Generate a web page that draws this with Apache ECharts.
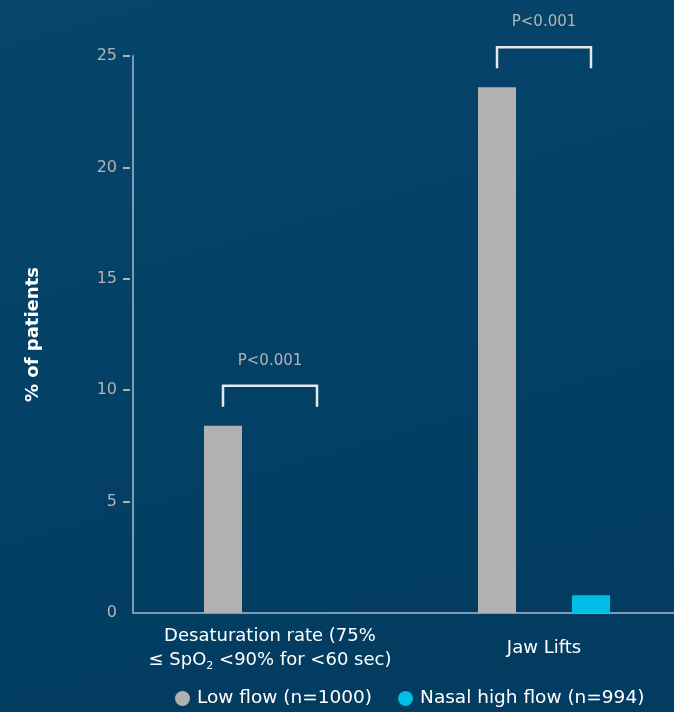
<!DOCTYPE html>
<html>
<head>
<meta charset="utf-8">
<script src="https://cdn.jsdelivr.net/npm/echarts@6/dist/echarts.min.js"></script>
<style>
  html, body { margin: 0; padding: 0; }
  #chart { width: 674px; height: 712px; }
</style>
</head>
<body>
<div id="chart"></div>
<script>
// Outcome categories and values (% of patients)
const categories = ['Desaturation', 'Jaw Lifts'];
const lowFlow = [8.4, 23.6];
const nasalHighFlow = [0, 0.8];
const pValues = ['P<0.001', 'P<0.001'];
const yTicks = [0, 5, 10, 15, 20, 25];
const seriesNames = ['Low flow (n=1000)', 'Nasal high flow (n=994)'];

const FONT = '"DejaVu Sans", "Noto Sans", sans-serif';
const BAR_W = 38;
const BAR_GAP_PX = 56;
const HALF_SPAN = (BAR_W + BAR_GAP_PX) / 2;

const bracketData = categories.map((c, i) => [i, Math.max(lowFlow[i], nasalHighFlow[i]), pValues[i]]);

const chart = echarts.init(document.getElementById('chart'));

const yCommon = {
  type: 'value',
  min: yTicks[0],
  max: yTicks[yTicks.length - 1],
  interval: 5,
  splitLine: { show: false }
};

chart.setOption({
  backgroundColor: {
    type: 'linear', x: 0, y: 0, x2: 0.3, y2: 1,
    colorStops: [
      { offset: 0, color: '#06456c' },
      { offset: 1, color: '#023d61' }
    ]
  },
  animation: false,
  textStyle: { fontFamily: FONT },
  grid: { left: 133, width: 548, top: 56, bottom: 99, containLabel: false, outerBoundsMode: 'none' },
  legend: {
    left: 170,
    top: 684,
    icon: 'circle',
    itemWidth: 15,
    itemHeight: 15,
    itemGap: 26,
    textStyle: { color: '#ffffff', fontSize: 18.5, fontFamily: FONT, padding: [0, 0, 0, 2] },
    data: seriesNames
  },
  xAxis: {
    type: 'category',
    data: categories,
    axisLine: { lineStyle: { color: '#7f9cb3', width: 2 } },
    axisTick: { show: false },
    axisLabel: {
      interval: 0,
      hideOverlap: false,
      margin: 35,
      verticalAlign: 'middle',
      color: '#ffffff',
      fontSize: 18,
      lineHeight: 24,
      formatter: function (v) {
        if (v === 'Desaturation') {
          return '{t|Desaturation rate (75%}\n{t|\u2264 SpO}{sub|2}{t| <90% for <60 sec)}';
        }
        return '{t|' + v + '}';
      },
      rich: {
        t: { color: '#ffffff', fontSize: 18, fontFamily: FONT, lineHeight: 24 },
        sub: { color: '#ffffff', fontSize: 11, fontFamily: FONT, verticalAlign: 'bottom', lineHeight: 10 }
      }
    }
  },
  yAxis: [
    Object.assign({}, yCommon, {
      name: '% of patients',
      nameLocation: 'middle',
      nameGap: 91,
      nameRotate: 90,
      nameTextStyle: { color: '#ffffff', fontSize: 18, fontWeight: 'bold', fontFamily: FONT },
      axisLine: { show: true, lineStyle: { color: '#7f9cb3', width: 2 } },
      axisTick: { show: false },
      axisLabel: { show: false }
    }),
    Object.assign({}, yCommon, {
      position: 'left',
      offset: 3,
      axisLine: { show: false },
      axisTick: { show: true, length: 7, lineStyle: { color: '#b3b3b3', width: 2 }, customValues: [5, 10, 15, 20, 25] },
      axisLabel: { color: '#b3b3b3', fontSize: 16, margin: 13, fontFamily: FONT }
    })
  ],
  series: [
    {
      name: seriesNames[0],
      type: 'bar',
      data: lowFlow,
      barWidth: BAR_W,
      barGap: (BAR_GAP_PX / BAR_W * 100) + '%',
      itemStyle: { color: '#b1b1b1' }
    },
    {
      name: seriesNames[1],
      type: 'bar',
      data: nasalHighFlow,
      barWidth: BAR_W,
      itemStyle: { color: '#00bde6' }
    },
    {
      type: 'custom',
      data: bracketData,
      silent: true,
      z: 5,
      renderItem: function (params, api) {
        const p = api.coord([api.value(0), api.value(1)]);
        const top = p[1] - 40;
        const legBottom = top + 21;
        return {
          type: 'group',
          children: [
            {
              type: 'polyline',
              shape: { points: [[p[0] - HALF_SPAN, legBottom], [p[0] - HALF_SPAN, top], [p[0] + HALF_SPAN, top], [p[0] + HALF_SPAN, legBottom]] },
              style: { stroke: '#e4e8ec', lineWidth: 2.5, fill: null }
            },
            {
              type: 'text',
              x: p[0],
              y: top - 25,
              style: {
                text: bracketData[params.dataIndex][2],
                fill: '#b3b3b3',
                fontSize: 15,
                fontFamily: FONT,
                align: 'center',
                verticalAlign: 'middle'
              }
            }
          ]
        };
      }
    }
  ]
});
</script>
</body>
</html>
